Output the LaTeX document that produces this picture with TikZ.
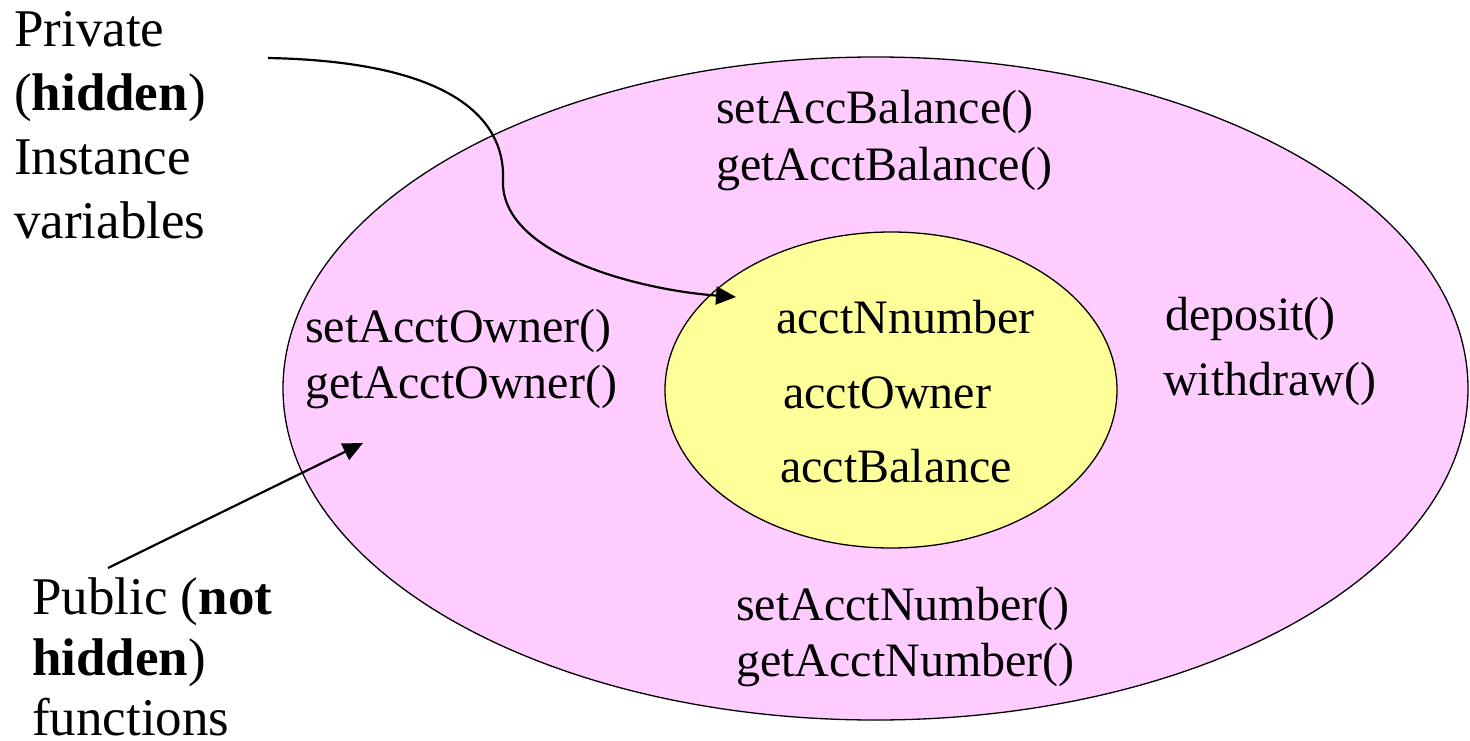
\documentclass[tikz,border=0pt]{standalone}
\usepackage{fontspec}
\setmainfont{Liberation Serif}
\usetikzlibrary{arrows.meta,shapes.geometric}
\definecolor{pinkfill}{HTML}{FFCCFF}
\definecolor{yellowfill}{HTML}{FFFF99}
\begin{document}
\begin{tikzpicture}[x=1pt,y=-1pt,
  lbl/.style={anchor=base west,inner sep=0pt,font=\fontsize{48}{57}\selectfont},
  side/.style={anchor=base west,inner sep=0pt,font=\fontsize{53}{63}\selectfont},
  conn/.style={line width=2.2pt,-{Triangle[length=20pt,width=18pt]}}]
\useasboundingbox (0,0) rectangle (1470,741);
\node[draw,line width=1.3pt,fill=pinkfill,ellipse,minimum width=1185pt,minimum height=663pt,inner sep=0pt] (outer) at (875.5,388.5) {};
\node[draw,line width=1.3pt,fill=yellowfill,ellipse,minimum width=452pt,minimum height=316pt,inner sep=0pt] (inner) at (891,390) {};
% texts
\node[side] (p1) at (14,47) {Private};
\node[side] (p2) at (14,111) {(\textbf{hidden})};
\node[side] (p3) at (14,175) {Instance};
\node[side] (p4) at (14,238) {variables};
\node[side] (q1) at (32,614) {Public (\textbf{not}};
\node[side] (q2) at (32,675) {\textbf{hidden})};
\node[side] (q3) at (32,735) {functions};
\node[lbl] (sab) at (716,124) {setAccBalance()};
\node[lbl] (gab) at (716,181) {getAcctBalance()};
\node[lbl] (sao) at (305,342) {setAcctOwner()};
\node[lbl] (gao) at (305,398) {getAcctOwner()};
\node[lbl] (van) at (776,333) {acctNnumber};
\node[lbl] (vao) at (783,408) {acctOwner};
\node[lbl] (vab) at (780,482) {acctBalance};
\node[lbl] (dep) at (1165,330) {deposit()};
\node[lbl] (wit) at (1163,395) {withdraw()};
\node[lbl] (san) at (736,620) {setAcctNumber()};
\node[lbl] (gan) at (736,676) {getAcctNumber()};
% connectors
\coordinate (c1s) at (268,58);
\coordinate (c1m) at (503,180);
\coordinate (c1e) at (736,297);
\coordinate (c2s) at (108,568);
\coordinate (c2e) at (363,443);
\draw[conn] (c1s) .. controls (470,62) and (505,130) .. (c1m) .. controls (500,255) and (640,290) .. (c1e);
\draw[conn] (c2s) -- (c2e);
\end{tikzpicture}
\end{document}
